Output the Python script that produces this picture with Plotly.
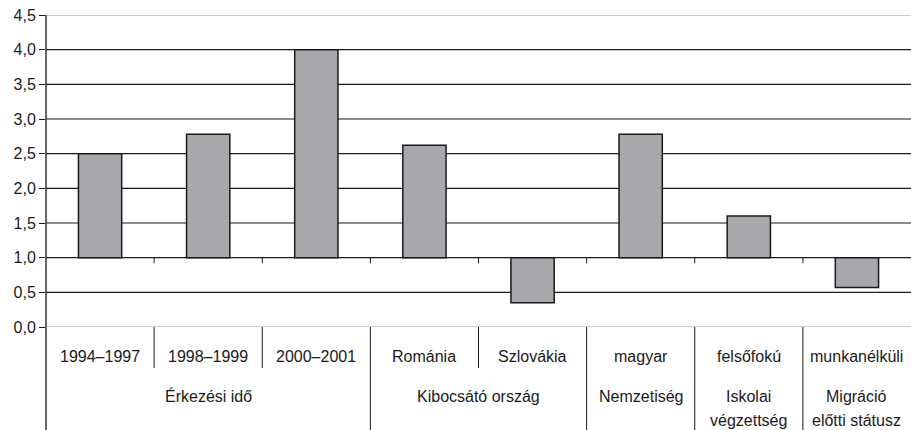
import plotly.graph_objects as go

categories = ["1994–1997", "1998–1999", "2000–2001", "Románia", "Szlovákia",
              "magyar", "felsőfokú", "munkanélküli"]
values = [2.5, 2.78, 4.0, 2.62, 0.35, 2.78, 1.6, 0.57]
baseline = 1.0
groups = [["Érkezési idő"], ["Kibocsátó ország"], ["Nemzetiség"],
          ["Iskolai", "végzettség"], ["Migráció", "előtti státusz"]]
group_sizes = [3, 2, 1, 1, 1]
y_ticks = [0, 0.5, 1.0, 1.5, 2.0, 2.5, 3.0, 3.5, 4.0, 4.5]

FONT = "Liberation Sans, Arial, sans-serif"
TXT = "#1a1a1a"
n = len(categories)
xs = list(range(n))

fig = go.Figure()
fig.add_trace(go.Bar(
    x=xs, y=[v - baseline for v in values], base=[baseline] * n,
    width=0.4, marker=dict(color="#a7a8ab", line=dict(color="#1a1a1a", width=1.5)),
    showlegend=False, hovertext=[f"{c}: {v}" for c, v in zip(categories, values)],
    hoverinfo="text"))

shapes = []
# grid lines
for t in y_ticks:
    col = "#9a9a9a" if t in (y_ticks[0], y_ticks[-1]) else "#1a1a1a"
    shapes.append(dict(type="line", xref="paper", yref="y", x0=0, x1=1, y0=t, y1=t,
                       line=dict(color=col, width=1.2), layer="below"))
# x axis at baseline with ticks at category boundaries
for k in range(n - 1):
    shapes.append(dict(type="line", xref="x", yref="y", x0=k + 0.5, x1=k + 0.5,
                       y0=baseline, y1=baseline - 0.08, line=dict(color="#1a1a1a", width=1)))

# dividers below the plot
PH = 312.0
def py(px_below):
    return -px_below / PH

group_bounds = []
acc = 0
for s in group_sizes:
    group_bounds.append((acc, acc + s))
    acc += s
group_edges = {b for _, b in group_bounds}
for k in range(1, n):
    y1 = py(103) if k in group_edges else py(41)
    shapes.append(dict(type="line", xref="x", yref="paper", x0=k - 0.5, x1=k - 0.5,
                       y0=0, y1=y1, line=dict(color="#1a1a1a", width=1)))
# left axis extension
shapes.append(dict(type="line", xref="paper", yref="paper", x0=0, x1=0, y0=1, y1=py(103),
                   line=dict(color="#1a1a1a", width=1.3)))

annotations = []
for i, c in enumerate(categories):
    annotations.append(dict(x=i, y=py(29), xref="x", yref="paper", text=c, showarrow=False,
                            xanchor="center", yanchor="middle",
                            font=dict(family=FONT, size=16, color=TXT)))
for (a, b), lines in zip(group_bounds, groups):
    cx = (a + b - 1) / 2
    for j, line in enumerate(lines):
        annotations.append(dict(x=cx, y=py(69 + 24 * j), xref="x", yref="paper", text=line,
                                showarrow=False, xanchor="center", yanchor="middle",
                                font=dict(family=FONT, size=16, color=TXT)))

fig.update_layout(
    width=911, height=430, margin=dict(l=46, r=0, t=15, b=103, pad=0, autoexpand=False),
    paper_bgcolor="white", plot_bgcolor="white", separators=", ",
    shapes=shapes, annotations=annotations, bargap=0.6,
    xaxis=dict(range=[-0.5, n - 0.5], showticklabels=False, showgrid=False,
               zeroline=False, showline=False, ticks="", automargin=False),
    yaxis=dict(range=[0, 4.5], tickvals=y_ticks, tickformat=".1f", showgrid=False,
               zeroline=False, showline=False, ticks="outside", ticklen=6,
               tickcolor="#1a1a1a", tickwidth=1, automargin=False,
               tickfont=dict(family=FONT, size=16, color=TXT)),
)
fig.write_html("out.html", config={"displayModeBar": False},
               post_script="document.body.style.margin='0';document.body.style.padding='0';")
